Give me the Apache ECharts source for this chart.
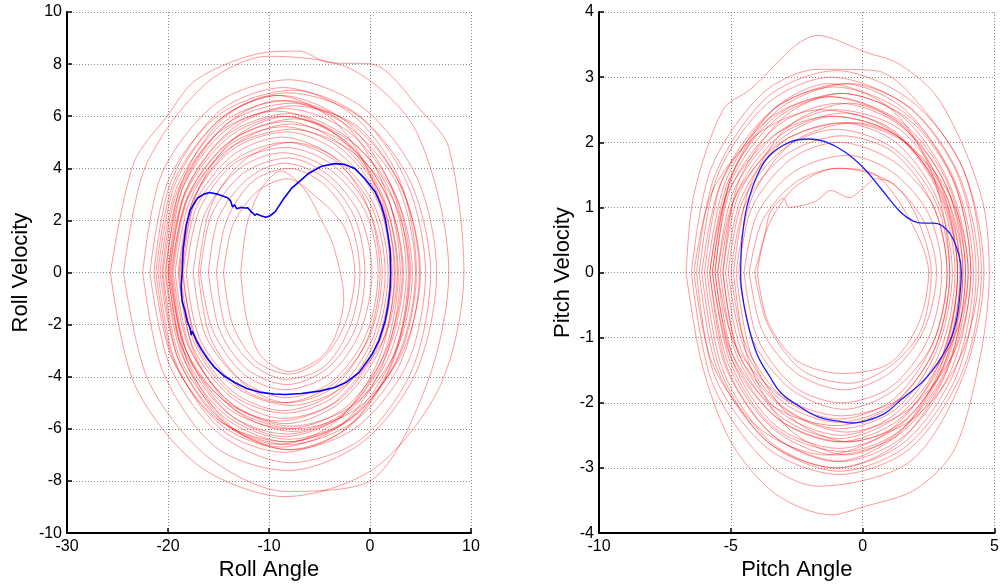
<!DOCTYPE html>
<html>
<head>
<meta charset="utf-8">
<script src="https://cdn.jsdelivr.net/npm/echarts@6/dist/echarts.min.js"></script>
<style>html,body{margin:0;padding:0;background:#fff}#c{width:1002px;height:586px}</style>
</head>
<body>
<div id="c"></div>
<script>
// ---- tick labels ----
const rollAngleTicks = [-30, -20, -10, 0, 10];
const rollVelTicks = [-10, -8, -6, -4, -2, 0, 2, 4, 6, 8, 10];
const pitchAngleTicks = [-10, -5, 0, 5];
const pitchVelTicks = [-4, -3, -2, -1, 0, 1, 2, 3, 4];

// ---- roll phase loops (red) [angle, velocity] ----
const roll01 = [[-25.7,0],[-23.4,4.2],[-20.1,6.0],[-17.2,7.4],[-11.1,8.4],[-7.1,8.5],[-4.1,8.06],[0.2,8.0],[5.2,6.15],[7.8,4.8],[9.3,0],[7.0,-4.3],[0.5,-7.5],[-8.4,-8.6],[-17.0,-7.4],[-23.3,-4.3],[-25.7,0]];
const roll02 = [[-24.4,0],[-22.2,4.1],[-16.4,7.2],[-10.1,8.3],[-1.8,7.8],[4.6,5.4],[7.8,0],[5.7,-4.2],[0,-8.0],[-8.3,-8.4],[-16.3,-7.0],[-22.0,-4.1],[-24.4,0]];
const roll03 = [[-22.5,0],[-20.6,3.8],[-15.2,6.5],[-8.0,7.4],[-0.6,6.3],[4.7,3.6],[6.6,0],[4.6,-3.8],[-0.7,-6.5],[-8.1,-7.6],[-15.3,-6.7],[-20.5,-3.8],[-22.5,0]];
const roll04 = [[-21.8,0],[-19.9,3.6],[-14.8,6.1],[-7.6,7.0],[-1.0,6.0],[4.1,3.4],[6.0,0],[4.2,-3.7],[-0.9,-6.4],[-7.9,-7.3],[-14.9,-6.2],[-19.8,-3.6],[-21.8,0]];
const roll05 = [[-21.2,0],[-19.4,3.5],[-14.5,6.0],[-8.2,6.9],[-1.1,6.0],[3.7,3.4],[5.5,0],[3.8,-3.4],[-1.2,-5.9],[-7.8,-6.8],[-14.6,-5.9],[-19.4,-3.4],[-21.2,0]];
const roll06 = [[-20.8,0],[-19.1,3.3],[-14.4,5.8],[-8.3,6.6],[-1.5,5.6],[3.2,3.2],[4.9,0],[3.1,-3.4],[-1.5,-5.7],[-8.0,-6.6],[-14.3,-5.8],[-19.0,-3.3],[-20.8,0]];
const roll07 = [[-20.5,0],[-18.8,3.2],[-14.2,5.7],[-7.7,6.5],[-1.8,5.5],[2.8,3.3],[4.5,0],[2.8,-3.2],[-1.8,-5.6],[-8.2,-6.5],[-14.3,-5.6],[-18.8,-3.3],[-20.5,0]];
const roll08 = [[-20.3,0],[-18.6,3.2],[-14.2,5.5],[-8.4,6.3],[-2.1,5.4],[2.4,3.1],[4.0,0],[2.3,-3.2],[-2.0,-5.6],[-8.1,-6.4],[-14.2,-5.5],[-18.6,-3.2],[-20.3,0]];
const roll09 = [[-20.0,0],[-18.4,3.0],[-14.1,5.3],[-8.0,6.1],[-2.3,5.2],[2.0,3.1],[3.6,0],[2.0,-3.1],[-2.3,-5.4],[-8.3,-6.2],[-14.1,-5.4],[-18.4,-3.1],[-20.0,0]];
const roll10 = [[-19.8,0],[-18.3,3.0],[-14.0,5.2],[-8.6,6.0],[-2.6,5.1],[1.7,2.9],[3.2,0],[1.6,-3.0],[-2.5,-5.2],[-8.2,-6.0],[-14.1,-5.2],[-18.2,-3.0],[-19.8,0]];
const roll11 = [[-19.6,0],[-18.1,2.9],[-14.0,5.0],[-8.2,5.8],[-2.8,4.9],[1.3,2.8],[2.8,0],[1.3,-3.2],[-2.8,-5.5],[-8.5,-6.3],[-14.0,-5.4],[-18.1,-3.1],[-19.6,0]];
const roll12 = [[-19.3,0],[-17.8,2.8],[-13.9,4.9],[-8.5,5.6],[-3.0,4.8],[1.0,2.8],[2.5,0],[1.0,-2.9],[-3.0,-5.0],[-8.3,-5.8],[-13.8,-5.0],[-17.8,-2.9],[-19.3,0]];
const roll13 = [[-19.0,0],[-17.6,2.7],[-13.7,4.7],[-8.2,5.4],[-3.1,4.6],[0.8,2.7],[2.2,0],[0.8,-2.8],[-3.1,-4.9],[-8.6,-5.6],[-13.7,-4.8],[-17.6,-2.8],[-19.0,0]];
const roll14 = [[-18.8,0],[-17.4,2.6],[-13.6,4.5],[-8.7,5.2],[-3.4,4.4],[0.4,2.6],[1.8,0],[0.4,-2.7],[-3.3,-4.7],[-8.4,-5.4],[-13.6,-4.7],[-17.4,-2.7],[-18.8,0]];
const roll15 = [[-18.5,0],[-17.2,2.5],[-13.5,4.3],[-8.3,5.0],[-3.5,4.3],[0.2,2.5],[1.5,0],[0.2,-2.6],[-3.5,-4.6],[-8.6,-5.3],[-13.5,-4.6],[-17.2,-2.7],[-18.5,0]];
const roll16 = [[-20.0,0],[-18.5,3.3],[-14.2,5.7],[-9.0,6.6],[-2.8,5.8],[1.5,3.2],[3.0,0],[1.4,-3.4],[-2.7,-5.8],[-8.8,-6.7],[-14.3,-5.8],[-18.4,-3.3],[-20.0,0]];
const roll17 = [[-19.5,0],[-17.9,3.0],[-13.6,5.1],[-7.4,5.9],[-1.8,5.0],[2.6,2.9],[4.2,0],[2.6,-3.0],[-1.7,-5.1],[-7.8,-5.9],[-13.5,-5.1],[-17.9,-2.9],[-19.5,0]];
const roll18 = [[-18.2,0],[-16.9,2.4],[-13.4,4.2],[-8.3,4.8],[-3.6,4.1],[-0.1,2.4],[1.2,0],[-0.1,-2.5],[-3.7,-4.3],[-8.6,-5.0],[-13.3,-4.3],[-16.9,-2.5],[-18.2,0]];
const roll19 = [[-17.5,0],[-16.3,2.3],[-12.9,4.0],[-8.6,4.6],[-3.8,3.9],[-0.4,2.3],[0.8,0],[-0.4,-2.4],[-3.8,-4.2],[-8.3,-4.8],[-12.9,-4.1],[-16.3,-2.4],[-17.5,0]];
const roll20 = [[-16.8,0],[-15.7,2.2],[-12.6,3.8],[-8.1,4.4],[-4.0,3.7],[-1.0,2.2],[0.2,0],[-1.0,-2.3],[-4.0,-3.9],[-8.4,-4.5],[-12.5,-3.9],[-15.6,-2.2],[-16.8,0]];
const roll21 = [[-16.0,0],[-15.0,2.1],[-12.1,3.6],[-8.5,4.2],[-4.4,3.6],[-1.5,2.1],[-0.5,0],[-1.5,-2.2],[-4.3,-3.7],[-8.2,-4.3],[-12.2,-3.7],[-14.9,-2.2],[-16.0,0]];
const roll22 = [[-15.2,0],[-14.2,2.0],[-11.6,3.5],[-8.0,4.0],[-4.6,3.4],[-2.0,2.0],[-1.0,0],[-1.9,-2.0],[-4.5,-3.6],[-8.3,-4.1],[-11.7,-3.5],[-14.3,-2.1],[-15.2,0]];
const roll23 = [[-14.5,0],[-13.6,1.8],[-11.2,3.1],[-8.2,3.6],[-5.0,2.8],[-2.5,1.7],[-1.5,0],[-2.4,-1.9],[-4.7,-3.3],[-8.0,-3.9],[-11.3,-3.4],[-13.6,-2.0],[-14.5,0]];
const roll24 = [[-12.8,0],[-12.2,1.8],[-10.8,3.2],[-8.8,3.9],[-6.5,3.2],[-4.8,2.0],[-3.6,1.0],[-2.6,-1.0],[-3.5,-2.5],[-5.0,-3.3],[-8.0,-3.8],[-10.8,-3.2],[-12.2,-1.8],[-12.8,0]];
const roll25 = [[-17.0,0],[-15.8,2.5],[-12.5,4.3],[-7.8,5.0],[-3.5,4.4],[-0.2,2.5],[1.0,0],[-0.2,-2.5],[-3.6,-4.4],[-8.2,-5.0],[-12.4,-4.3],[-15.8,-2.5],[-17.0,0]];
const roll26 = [[-21.0,0],[-19.3,3.4],[-14.8,5.9],[-8.9,6.8],[-2.4,5.8],[2.1,3.3],[3.8,0],[2.1,-3.5],[-2.4,-6.0],[-8.6,-6.9],[-14.8,-6.0],[-19.3,-3.4],[-21.0,0]];
const roll27 = [[-20.6,0],[-19.1,3.1],[-14.9,5.4],[-9.2,6.2],[-3.4,5.3],[0.9,3.1],[2.4,0],[0.9,-3.3],[-3.3,-5.7],[-9.0,-6.6],[-14.8,-5.7],[-19.0,-3.3],[-20.6,0]];
const roll28 = [[-19.9,0],[-18.2,3.2],[-13.7,5.5],[-7.6,6.4],[-1.2,5.6],[3.3,3.1],[5.0,0],[3.3,-3.0],[-1.2,-5.2],[-7.3,-6.0],[-13.6,-5.2],[-18.2,-3.0],[-19.9,0]];
const roll29 = [[-21.4,0],[-19.7,3.5],[-14.9,6.2],[-8.6,7.1],[-1.9,6.1],[2.9,3.6],[4.6,0],[2.9,-3.2],[-1.9,-5.6],[-8.2,-6.5],[-14.9,-5.7],[-19.6,-3.3],[-21.4,0]];
const roll30 = [[-18.9,0],[-17.4,2.9],[-13.4,4.9],[-7.9,5.7],[-2.2,4.9],[1.8,2.8],[3.3,0],[1.8,-3.0],[-2.3,-5.3],[-7.6,-6.1],[-13.3,-5.3],[-17.4,-3.1],[-18.9,0]];
const roll31 = [[-20.2,0],[-18.7,3.4],[-14.6,5.9],[-9.3,6.8],[-3.5,5.8],[0.5,3.3],[2.0,0],[0.5,-2.9],[-3.6,-5.0],[-9.0,-5.7],[-14.5,-4.9],[-18.7,-2.8],[-20.2,0]];
const roll32 = [[-19.7,0],[-18.1,2.8],[-13.8,4.8],[-7.7,5.5],[-2.0,4.7],[2.3,2.8],[3.9,0],[2.3,-3.4],[-2.0,-5.9],[-8.1,-6.8],[-13.8,-5.9],[-18.1,-3.4],[-19.7,0]];
const roll33 = [[-18.6,0],[-17.2,3.0],[-13.3,5.2],[-8.2,6.0],[-2.6,5.1],[1.3,2.9],[2.7,0],[1.3,-2.6],[-2.7,-4.4],[-7.8,-5.1],[-13.3,-4.4],[-17.2,-2.5],[-18.6,0]];

// ---- roll highlighted trajectory (blue) ----
const rollBlue = [[-18.6,0.0],[-18.5,0.9],[-18.2,1.8],[-17.8,2.4],[-17.1,2.85],[-16.5,3.0],[-15.9,3.07],[-15.0,3.0],[-14.1,2.87],[-13.8,2.75],[-13.6,2.52],[-13.4,2.6],[-13.2,2.45],[-12.8,2.5],[-12.4,2.48],[-12.1,2.49],[-11.8,2.35],[-11.6,2.28],[-11.4,2.2],[-11.2,2.25],[-10.8,2.18],[-10.3,2.12],[-9.9,2.18],[-9.4,2.33],[-8.6,2.8],[-7.8,3.22],[-6.1,3.8],[-4.8,4.08],[-3.5,4.18],[-2.5,4.15],[-1.5,3.99],[-0.5,3.6],[0.5,3.1],[1.1,2.6],[1.5,2.08],[1.8,1.4],[2.0,0.81],[2.05,0.0],[2.0,-0.59],[1.8,-1.25],[1.5,-1.86],[0.9,-2.6],[0.2,-3.14],[-1.1,-3.84],[-2.3,-4.2],[-3.5,-4.41],[-5.0,-4.55],[-6.8,-4.64],[-8.4,-4.68],[-9.5,-4.66],[-10.8,-4.6],[-12.2,-4.45],[-13.4,-4.22],[-14.5,-3.95],[-15.4,-3.64],[-16.1,-3.3],[-16.7,-2.95],[-17.2,-2.6],[-17.6,-2.25],[-17.7,-2.4],[-17.8,-2.15],[-18.1,-1.86],[-18.3,-1.5],[-18.6,-1.1],[-18.7,-0.59],[-18.6,0.0]];

// ---- pitch phase loops (red) [angle, velocity] ----
const pitch01 = [[-6.7,0],[-6.4,1.2],[-5.3,2.5],[-4.3,2.8],[-1.7,3.64],[0.2,3.37],[1.3,3.22],[2.7,2.76],[3.8,1.95],[4.6,1.0],[4.8,0],[4.5,-1.2],[3.5,-2.7],[2.0,-3.33],[0,-3.6],[-1.2,-3.72],[-3.3,-3.4],[-5.0,-2.6],[-6.1,-1.4],[-6.7,0]];
const pitch02 = [[-6.5,0],[-5.75,1.6],[-3.8,2.75],[-1.7,3.12],[0.5,3.1],[1.9,2.7],[3.85,1.55],[4.6,0],[3.8,-1.6],[1.8,-2.9],[-1.7,-3.28],[-3.7,-2.9],[-5.7,-1.7],[-6.5,0]];
const pitch03 = [[-6.3,0],[-5.6,1.5],[-3.6,2.7],[-1.0,3.1],[1.8,2.65],[3.8,1.6],[4.5,0],[3.8,-1.5],[1.8,-2.7],[-0.9,-3.1],[-3.6,-2.7],[-5.6,-1.6],[-6.3,0]];
const pitch04 = [[-6.2,0],[-5.5,1.5],[-3.6,2.6],[-1.2,3.0],[1.7,2.55],[3.6,1.5],[4.3,0],[3.6,-1.55],[1.7,-2.65],[-0.9,-3.05],[-3.6,-2.6],[-5.5,-1.5],[-6.2,0]];
const pitch05 = [[-6.0,0],[-5.3,1.45],[-3.4,2.5],[-0.7,2.9],[1.6,2.5],[3.5,1.4],[4.2,0],[3.5,-1.5],[1.6,-2.6],[-1.0,-3.0],[-3.5,-2.6],[-5.3,-1.5],[-6.0,0]];
const pitch06 = [[-5.9,0],[-5.2,1.4],[-3.4,2.5],[-1.1,2.85],[1.6,2.45],[3.4,1.45],[4.1,0],[3.4,-1.45],[1.6,-2.5],[-0.8,-2.9],[-3.4,-2.5],[-5.2,-1.45],[-5.9,0]];
const pitch07 = [[-5.8,0],[-5.1,1.4],[-3.3,2.4],[-0.8,2.75],[1.5,2.4],[3.3,1.35],[4.0,0],[3.3,-1.4],[1.5,-2.45],[-1.0,-2.8],[-3.4,-2.4],[-5.1,-1.4],[-5.8,0]];
const pitch08 = [[-5.7,0],[-5.05,1.35],[-3.3,2.35],[-1.2,2.7],[1.5,2.3],[3.25,1.35],[3.9,0],[3.25,-1.4],[1.5,-2.4],[-0.7,-2.75],[-3.3,-2.4],[-5.0,-1.4],[-5.7,0]];
const pitch09 = [[-5.6,0],[-5.0,1.3],[-3.25,2.25],[-0.9,2.6],[1.45,2.25],[3.2,1.3],[3.8,0],[3.2,-1.35],[1.4,-2.35],[-0.9,-2.7],[-3.3,-2.35],[-4.95,-1.35],[-5.6,0]];
const pitch10 = [[-5.5,0],[-4.9,1.25],[-3.2,2.15],[-1.0,2.5],[1.4,2.2],[3.1,1.25],[3.7,0],[3.1,-1.3],[1.4,-2.25],[-0.9,-2.6],[-3.2,-2.25],[-4.9,-1.3],[-5.5,0]];
const pitch11 = [[-5.4,0],[-4.8,1.2],[-3.15,2.1],[-0.7,2.45],[1.35,2.1],[3.0,1.2],[3.6,0],[3.0,-1.3],[1.35,-2.2],[-0.9,-2.55],[-3.15,-2.2],[-4.8,-1.25],[-5.4,0]];
const pitch12 = [[-5.3,0],[-4.7,1.2],[-3.1,2.05],[-1.1,2.4],[1.3,2.1],[2.9,1.2],[3.5,0],[2.9,-1.25],[1.3,-2.15],[-0.8,-2.5],[-3.1,-2.15],[-4.7,-1.25],[-5.3,0]];
const pitch13 = [[-5.2,0],[-4.6,1.15],[-3.05,2.0],[-0.8,2.3],[1.25,2.0],[2.8,1.15],[3.4,0],[2.8,-1.2],[1.25,-2.1],[-0.9,-2.4],[-3.05,-2.05],[-4.6,-1.2],[-5.2,0]];
const pitch14 = [[-5.1,0],[-4.55,1.1],[-3.0,1.9],[-1.0,2.2],[1.2,1.9],[2.75,1.1],[3.3,0],[2.75,-1.15],[1.2,-2.0],[-0.9,-2.3],[-3.0,-2.0],[-4.5,-1.15],[-5.1,0]];
const pitch15 = [[-5.0,0],[-4.45,1.05],[-2.95,1.8],[-0.8,2.1],[1.15,1.85],[2.65,1.05],[3.2,0],[2.65,-1.1],[1.15,-1.95],[-0.9,-2.25],[-2.95,-1.95],[-4.45,-1.1],[-5.0,0]];
const pitch16 = [[-4.9,0],[-4.3,1.3],[-2.8,2.25],[-0.5,2.6],[1.5,2.25],[3.0,1.3],[3.6,0],[3.0,-1.4],[1.5,-2.4],[-0.6,-2.8],[-2.8,-2.4],[-4.3,-1.4],[-4.9,0]];
const pitch17 = [[-5.5,0],[-4.85,1.15],[-3.1,2.0],[-0.6,2.3],[1.6,2.0],[3.35,1.15],[4.0,0],[3.35,-1.1],[1.6,-1.9],[-0.8,-2.2],[-3.1,-1.9],[-4.85,-1.1],[-5.5,0]];
const pitch18 = [[-4.7,0],[-4.2,1.0],[-2.7,1.75],[-0.9,2.0],[1.2,1.7],[2.7,1.0],[3.2,0],[2.7,-1.05],[1.2,-1.8],[-0.7,-2.1],[-2.7,-1.8],[-4.15,-1.05],[-4.7,0]];
const pitch19 = [[-4.5,0],[-4.0,0.9],[-2.6,1.55],[-0.6,1.8],[1.1,1.55],[2.5,0.9],[3.0,0],[2.5,-1.0],[1.1,-1.75],[-0.8,-2.0],[-2.6,-1.75],[-4.0,-1.0],[-4.5,0]];
const pitch20 = [[-4.3,0],[-3.8,0.8],[-2.5,1.4],[-0.9,1.6],[1.0,1.4],[2.3,0.8],[2.8,0],[2.3,-0.9],[1.0,-1.55],[-0.7,-1.8],[-2.5,-1.55],[-3.8,-0.9],[-4.3,0]];
const pitch21 = [[-4.1,0],[-3.7,0.6],[-3.5,0.93],[-3.0,1.14],[-2.8,1.0],[-1.8,1.09],[-1.2,1.26],[-0.5,1.15],[0.0,1.29],[0.5,1.44],[1.2,1.35],[2.0,0.9],[2.6,0],[2.2,-0.9],[1.0,-1.45],[-0.5,-1.7],[-2.3,-1.5],[-3.6,-0.8],[-4.1,0]];
const pitch22 = [[-4.0,0],[-3.6,0.7],[-2.6,1.3],[-1.0,1.6],[0.5,1.5],[1.8,0.8],[2.5,0],[2.1,-0.8],[1.0,-1.4],[-0.8,-1.55],[-2.5,-1.35],[-3.6,-0.75],[-4.0,0]];
const pitch23 = [[-6.1,0],[-5.4,1.35],[-3.6,2.35],[-1.3,2.7],[1.4,2.3],[3.2,1.3],[3.9,0],[3.2,-1.5],[1.4,-2.6],[-1.0,-3.0],[-3.6,-2.6],[-5.4,-1.5],[-6.1,0]];
const pitch24 = [[-5.7,0],[-5.0,1.45],[-3.2,2.5],[-0.5,2.9],[1.9,2.5],[3.7,1.45],[4.4,0],[3.7,-1.3],[1.9,-2.25],[-0.7,-2.6],[-3.2,-2.25],[-5.0,-1.3],[-5.7,0]];
const pitch25 = [[-5.8,0],[-5.15,1.2],[-3.4,2.1],[-1.2,2.4],[1.3,2.1],[3.05,1.2],[3.7,0],[3.05,-1.45],[1.3,-2.5],[-1.0,-2.9],[-3.4,-2.5],[-5.15,-1.45],[-5.8,0]];
const pitch26 = [[-5.3,0],[-4.7,1.4],[-2.95,2.4],[-0.8,2.75],[1.75,2.35],[3.5,1.35],[4.1,0],[3.5,-1.2],[1.75,-2.1],[-0.6,-2.45],[-2.95,-2.1],[-4.7,-1.25],[-5.3,0]];
const pitch27 = [[-6.4,0],[-5.7,1.25],[-3.9,2.15],[-1.6,2.5],[1.1,2.2],[2.9,1.25],[3.6,0],[2.9,-1.4],[1.1,-2.4],[-1.4,-2.8],[-3.9,-2.4],[-5.7,-1.4],[-6.4,0]];
const pitch28 = [[-4.8,0],[-4.2,1.15],[-2.65,2.0],[-0.3,2.3],[1.65,2.0],[3.2,1.15],[3.8,0],[3.2,-1.3],[1.65,-2.25],[-0.5,-2.6],[-2.65,-2.25],[-4.2,-1.3],[-4.8,0]];
const pitch29 = [[-5.6,0],[-5.0,1.45],[-3.4,2.5],[-1.3,2.9],[1.1,2.5],[2.7,1.45],[3.3,0],[2.7,-1.2],[1.1,-2.05],[-1.0,-2.35],[-3.4,-2.05],[-5.0,-1.2],[-5.6,0]];

// ---- pitch highlighted trajectory (blue) ----
const pitchBlue = [[-4.63,0.0],[-4.57,0.53],[-4.38,1.03],[-4.0,1.49],[-3.52,1.8],[-2.78,2.0],[-2.03,2.05],[-1.42,2.01],[-0.67,1.85],[0.07,1.59],[0.69,1.29],[1.43,0.93],[1.92,0.79],[2.3,0.76],[2.66,0.76],[2.97,0.73],[3.34,0.58],[3.65,0.27],[3.74,0.0],[3.71,-0.24],[3.55,-0.74],[3.2,-1.15],[2.4,-1.62],[1.43,-1.96],[0.81,-2.17],[0.0,-2.29],[-0.4,-2.31],[-0.8,-2.29],[-1.66,-2.22],[-2.53,-2.02],[-3.1,-1.85],[-3.52,-1.6],[-4.01,-1.25],[-4.38,-0.74],[-4.6,-0.24],[-4.63,0.0]];

const rollLoops = [roll01,roll02,roll03,roll04,roll05,roll06,roll07,roll08,roll09,roll10,roll11,roll12,roll13,roll14,roll15,roll16,roll17,roll18,roll19,roll20,roll21,roll22,roll23,roll24,roll25,roll26,roll27,roll28,roll29,roll30,roll31,roll32,roll33];
const pitchLoops = [pitch01,pitch02,pitch03,pitch04,pitch05,pitch06,pitch07,pitch08,pitch09,pitch10,pitch11,pitch12,pitch13,pitch14,pitch15,pitch16,pitch17,pitch18,pitch19,pitch20,pitch21,pitch22,pitch23,pitch24,pitch25,pitch26,pitch27,pitch28,pitch29];

const FONT = 'Liberation Sans, Arial, sans-serif';
const chart = echarts.init(document.getElementById('c'), null, {renderer: 'canvas'});

function xAx(idx, ticks, name) {
  return {
    type: 'value', gridIndex: idx, min: ticks[0], max: ticks[ticks.length - 1],
    interval: ticks[1] - ticks[0],
    name: name, nameLocation: 'middle', nameGap: 23,
    nameTextStyle: {fontFamily: FONT, fontSize: 22, color: '#000'},
    axisLine: {show: true, onZero: false, lineStyle: {color: '#000', width: 2}},
    axisTick: {show: true, inside: true, length: 5, lineStyle: {color: '#000', width: 1.5}},
    axisLabel: {fontFamily: FONT, fontSize: 16, color: '#000', margin: 5, showMinLabel: true, showMaxLabel: true},
    splitLine: {show: true, lineStyle: {color: '#8a8a8a', type: [1, 2], width: 1}}
  };
}
function yAx(idx, ticks, name, gap) {
  return {
    type: 'value', gridIndex: idx, min: ticks[0], max: ticks[ticks.length - 1],
    interval: ticks[1] - ticks[0],
    name: name, nameLocation: 'middle', nameGap: gap, nameRotate: 90,
    nameTextStyle: {fontFamily: FONT, fontSize: 22, color: '#000'},
    axisLine: {show: true, onZero: false, lineStyle: {color: '#000', width: 2}},
    axisTick: {show: true, inside: true, length: 5, lineStyle: {color: '#000', width: 1.5}},
    axisLabel: {fontFamily: FONT, fontSize: 16, color: '#000', margin: 5, showMinLabel: true, showMaxLabel: true},
    splitLine: {show: true, lineStyle: {color: '#8a8a8a', type: [1, 2], width: 1}}
  };
}

const series = [];
const RED = 'rgba(255,0,0,0.4)';
rollLoops.forEach(function (d) {
  series.push({type: 'line', xAxisIndex: 0, yAxisIndex: 0, data: d, symbol: 'none', smooth: 0.3,
    silent: true, lineStyle: {color: RED, width: 1}, z: 2});
});
pitchLoops.forEach(function (d) {
  series.push({type: 'line', xAxisIndex: 1, yAxisIndex: 1, data: d, symbol: 'none', smooth: 0.3,
    silent: true, lineStyle: {color: RED, width: 1}, z: 2});
});
series.push({type: 'line', xAxisIndex: 0, yAxisIndex: 0, data: rollBlue, symbol: 'none', smooth: false,
  silent: true, lineStyle: {color: '#0000ff', width: 1.6}, z: 5});
series.push({type: 'line', xAxisIndex: 1, yAxisIndex: 1, data: pitchBlue, symbol: 'none', smooth: 0.4,
  silent: true, lineStyle: {color: '#1a1aff', width: 1.3}, z: 5});

chart.setOption({
  animation: false,
  backgroundColor: '#fff',
  grid: [
    {left: 67, top: 12, width: 404, height: 525, containLabel: false},
    {left: 599, top: 12, width: 404, height: 525, containLabel: false}
  ],
  xAxis: [xAx(0, rollAngleTicks, 'Roll Angle'), xAx(1, pitchAngleTicks, 'Pitch Angle')],
  yAxis: [yAx(0, rollVelTicks, 'Roll Velocity', 35), yAx(1, pitchVelTicks, 'Pitch Velocity', 25)],
  series: series
});
</script>
</body>
</html>
